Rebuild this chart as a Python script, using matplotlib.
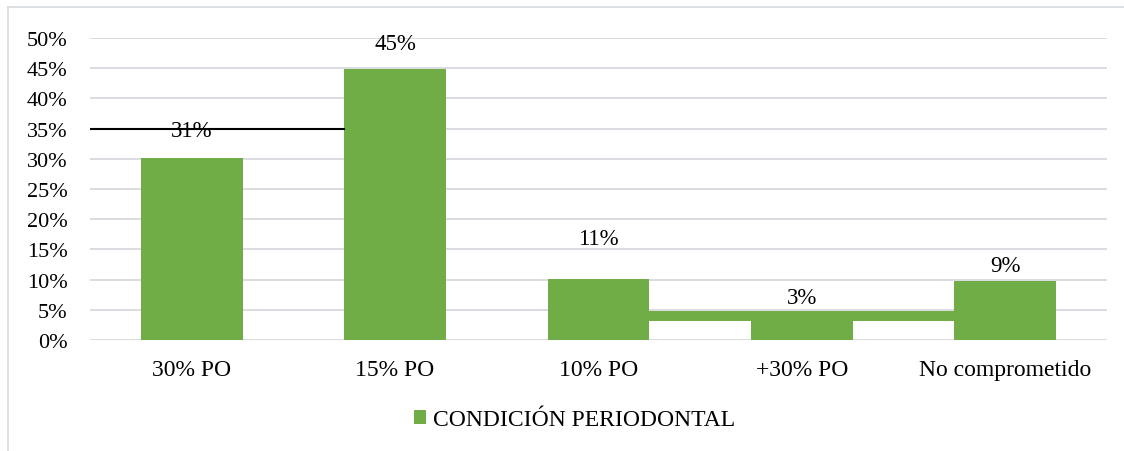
import matplotlib
matplotlib.use("Agg")
import matplotlib.pyplot as plt
from matplotlib.patches import Rectangle
from matplotlib.lines import Line2D

plt.rcParams['font.family'] = ['Liberation Serif', 'DejaVu Serif']

categories = ["30% PO", "15% PO", "10% PO", "+30% PO", "No comprometido"]
values = [30.1, 44.8, 10.1, 3.1, 9.7]
value_labels = ["31%", "45%", "11%", "3%", "9%"]
series_name = "CONDICIÓN PERIODONTAL"
yticks = [0, 5, 10, 15, 20, 25, 30, 35, 40, 45, 50]
ytick_labels = [f"{t}%" for t in yticks]

# layout (positions of the stray labels / artifacts in the original)
label_y = [34.7, 49.1, 16.8, 7.1, 12.4]
black_line_y = 35
band_y = (3.15, 4.85)

green = "#70AD47"
grid = "#D9DCE1"

fig = plt.figure(figsize=(11.24, 4.52), dpi=100)
ax = fig.add_axes([90/1124, 1-341/452, (1107-90)/1124, (341-39)/452])

x = list(range(len(categories)))
bw = 0.5
bars = ax.bar(x, values, width=bw, color=green, zorder=3, label=series_name)

ax.set_xlim(-0.5, len(categories) - 0.5)
ax.set_ylim(0, 50)
ax.set_yticks(yticks)
ax.set_yticklabels(ytick_labels, fontsize=16)
ax.set_xticks(x)
ax.set_xticklabels(categories, fontsize=17)
ax.tick_params(axis='both', length=0)
ax.tick_params(axis='y', pad=16)
ax.tick_params(axis='x', pad=14)
for s in ax.spines.values():
    s.set_visible(False)
ax.yaxis.grid(True, color=grid, linewidth=1.4, zorder=0)
ax.set_axisbelow(True)

for xi, ly, t in zip(x, label_y, value_labels):
    ax.text(xi, ly, t, ha='center', va='center', fontsize=16.5, zorder=5)

# black line from axis to the left edge of the second bar
ax.plot([-0.5, x[1] - bw/2], [black_line_y, black_line_y], color='black', lw=1.5, zorder=4)
# green band between 3rd and 5th bars
ax.add_patch(Rectangle((x[2] + bw/2, band_y[0]), (x[4] - bw/2) - (x[2] + bw/2),
                       band_y[1] - band_y[0], color=green, zorder=3, lw=0))

fig.legend(handles=[bars], labels=[series_name], loc='center',
           bbox_to_anchor=(575/1124, 1-421/452), frameon=False, fontsize=17,
           handlelength=0.5, handleheight=0.5, handletextpad=0.3)

# outer frame (top and left edges)
fig.add_artist(Line2D([8/1124, 1], [1-8/452, 1-8/452], color=grid, lw=1.3))
fig.add_artist(Line2D([8/1124, 8/1124], [0, 1-8/452], color=grid, lw=1.3))

fig.savefig("out.png", dpi=100)
